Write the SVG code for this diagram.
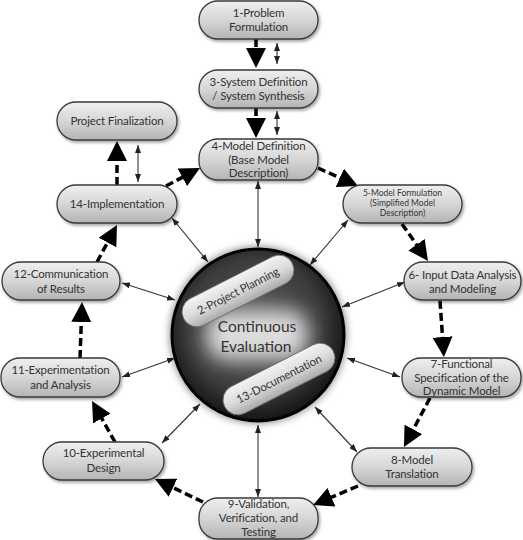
<svg xmlns="http://www.w3.org/2000/svg" width="523" height="540" viewBox="0 0 523 540">
<defs>
<linearGradient id="boxg" x1="0" y1="0" x2="0" y2="1">
<stop offset="0" stop-color="#efefef"/>
<stop offset="0.5" stop-color="#d6d6d6"/>
<stop offset="1" stop-color="#b4b4b4"/>
</linearGradient>
<linearGradient id="pillg" x1="0" y1="0" x2="0" y2="1">
<stop offset="0" stop-color="#f4f4f4"/>
<stop offset="0.55" stop-color="#d9d9d9"/>
<stop offset="1" stop-color="#a9a9a9"/>
</linearGradient>
<radialGradient id="sphg" cx="0.48" cy="0.45" r="0.55">
<stop offset="0" stop-color="#5e5e5e"/>
<stop offset="0.7" stop-color="#3c3c3c"/>
<stop offset="1" stop-color="#151515"/>
</radialGradient>
<filter id="sh" x="-10%" y="-20%" width="125%" height="150%">
<feDropShadow dx="1.5" dy="2" stdDeviation="1.4" flood-color="#000" flood-opacity="0.35"/>
</filter>
<filter id="csh" x="-20%" y="-20%" width="140%" height="140%">
<feDropShadow dx="0" dy="0" stdDeviation="4" flood-color="#000" flood-opacity="0.55"/>
</filter>
<filter id="blur" x="-50%" y="-50%" width="200%" height="200%">
<feGaussianBlur stdDeviation="10"/>
</filter>
<marker id="big" viewBox="0 0 20 20" markerUnits="userSpaceOnUse" markerWidth="20" markerHeight="20" refX="8" refY="10" orient="auto">
<path d="M0,0 L20,10 L0,20 z" fill="#000"/>
</marker>
<marker id="sm" viewBox="0 0 8 6" markerUnits="userSpaceOnUse" markerWidth="8" markerHeight="6" refX="8" refY="3" orient="auto-start-reverse">
<path d="M0,0 L8,3 L0,6 z" fill="#222"/>
</marker>
<style>
.box{fill:url(#boxg);stroke:#3a3a3a;stroke-width:1.3;filter:url(#sh)}
.t{font-family:Lato,"Liberation Sans",sans-serif;font-size:11.5px;letter-spacing:-0.15px;fill:#333;text-anchor:middle}
.ts{font-family:Lato,"Liberation Sans",sans-serif;font-size:8.5px;fill:#333;text-anchor:middle}
.dash{fill:none;stroke:#000;stroke-width:3.5;stroke-dasharray:8 4;marker-end:url(#big)}
.thin{fill:none;stroke:#333;stroke-width:1.1;marker-start:url(#sm);marker-end:url(#sm)}
.pill{fill:url(#pillg);stroke:#666;stroke-width:0.8}
.ce{font-family:Lato,"Liberation Sans",sans-serif;font-size:15.5px;fill:#333;text-anchor:middle}
</style>
</defs>
<rect width="523" height="540" fill="#fff"/>

<g id="connectors">
<line class="dash" x1="256" y1="39" x2="256" y2="56"/>
<line class="dash" x1="256" y1="108" x2="256" y2="126"/>
<line class="dash" x1="117" y1="185" x2="117" y2="153"/>
<line class="dash" x1="166" y1="186" x2="189.4" y2="173.6"/>
<line class="dash" x1="318" y1="168" x2="347.1" y2="181.1"/>
<line class="dash" x1="402" y1="224" x2="421.1" y2="251.2"/>
<line class="dash" x1="440" y1="301" x2="443.1" y2="345"/>
<line class="dash" x1="430" y1="398" x2="409.6" y2="436.4"/>
<line class="dash" x1="358" y1="486" x2="324.1" y2="500.3"/>
<line class="dash" x1="203" y1="502" x2="165.8" y2="484.2"/>
<line class="dash" x1="115" y1="442" x2="97.9" y2="411.5"/>
<line class="dash" x1="80" y1="358" x2="81.6" y2="314"/>
<line class="dash" x1="97" y1="262" x2="111.3" y2="235.5"/>

<line class="thin" x1="277" y1="43" x2="277" y2="64"/>
<line class="thin" x1="277" y1="111" x2="277" y2="135"/>
<line class="thin" x1="138" y1="145" x2="138" y2="182"/>
<line class="thin" x1="258" y1="181" x2="258" y2="247"/>
<line class="thin" x1="172" y1="218" x2="208" y2="262"/>
<line class="thin" x1="348" y1="220" x2="310" y2="265"/>
<line class="thin" x1="122" y1="283" x2="175" y2="300"/>
<line class="thin" x1="122" y1="377" x2="175" y2="358"/>
<line class="thin" x1="405" y1="282" x2="342" y2="307"/>
<line class="thin" x1="400" y1="377" x2="347" y2="358"/>
<line class="thin" x1="162" y1="443" x2="200" y2="404"/>
<line class="thin" x1="258" y1="425" x2="258" y2="497"/>
<line class="thin" x1="357" y1="452" x2="315" y2="407"/>
</g>

<g id="n1"><rect class="box" x="199" y="1" width="119" height="38" rx="19"/>
<text class="t" x="258.5" y="17">1-Problem</text><text class="t" x="258.5" y="31">Formulation</text></g>
<g id="n3"><rect class="box" x="199" y="70" width="119" height="38" rx="19"/>
<text class="t" x="258.5" y="86">3-System Definition</text><text class="t" x="258.5" y="100">/ System Synthesis</text></g>
<g id="n4"><rect class="box" x="199" y="139" width="119" height="41" rx="19"/>
<text class="t" x="258.5" y="150">4-Model Definition</text><text class="t" x="258.5" y="163.5">(Base Model</text><text class="t" x="258.5" y="177">Description)</text></g>
<g id="nPF"><rect class="box" x="57" y="102" width="120" height="38" rx="19"/>
<text class="t" x="117" y="125">Project Finalization</text></g>
<g id="n14"><rect class="box" x="57" y="185" width="120" height="38" rx="19"/>
<text class="t" x="117" y="208">14-Implementation</text></g>
<g id="n5"><rect class="box" x="343" y="185" width="119" height="38" rx="19"/>
<text class="ts" x="402.5" y="196">5-Model Formulation</text><text class="ts" x="402.5" y="206">(Simplified  Model</text><text class="ts" x="402.5" y="216">Description)</text></g>
<g id="n6"><rect class="box" x="404" y="262" width="117" height="38" rx="19"/>
<text class="t" x="462.5" y="279">6- Input Data Analysis</text><text class="t" x="462.5" y="293">and Modeling</text></g>
<g id="n7"><rect class="box" x="402" y="358" width="119" height="39" rx="19"/>
<text class="t" x="461.5" y="368">7-Functional</text><text class="t" x="461.5" y="381.5">Specification of the</text><text class="t" x="461.5" y="395">Dynamic Model</text></g>
<g id="n8"><rect class="box" x="352" y="448" width="120" height="38" rx="19"/>
<text class="t" x="412" y="464">8-Model</text><text class="t" x="412" y="478">Translation</text></g>
<g id="n9"><rect class="box" x="199" y="498" width="119" height="41" rx="19"/>
<text class="t" x="258.5" y="508">9-Validation,</text><text class="t" x="258.5" y="522">Verification, and</text><text class="t" x="258.5" y="536">Testing</text></g>
<g id="n10"><rect class="box" x="43" y="442" width="121" height="38" rx="19"/>
<text class="t" x="103.5" y="457">10-Experimental</text><text class="t" x="103.5" y="472">Design</text></g>
<g id="n11"><rect class="box" x="1" y="358" width="119" height="39" rx="19"/>
<text class="t" x="60.5" y="374">11-Experimentation</text><text class="t" x="60.5" y="389">and Analysis</text></g>
<g id="n12"><rect class="box" x="2" y="262" width="118" height="38" rx="19"/>
<text class="t" x="61" y="278">12-Communication</text><text class="t" x="61" y="293">of Results</text></g>

<g id="evaluation">
<circle cx="258" cy="335" r="86" fill="url(#sphg)" stroke="#000" stroke-width="3" filter="url(#csh)"/>
<rect x="206" y="310" width="102" height="50" rx="20" fill="#dcdcdc" filter="url(#blur)"/>
<text class="ce" x="257" y="332">Continuous</text>
<text class="ce" x="256" y="352">Evaluation</text>
</g>
<g id="n2" transform="translate(238 291) rotate(-27)">
<rect class="pill" x="-61" y="-15" width="122" height="30" rx="15"/>
<text class="t" x="0" y="4">2-Project Planning</text>
</g>
<g id="n13" transform="translate(279 379) rotate(-27)">
<rect class="pill" x="-61" y="-15" width="122" height="30" rx="15"/>
<text class="t" x="0" y="4">13-Documentation</text>
</g>
</svg>
